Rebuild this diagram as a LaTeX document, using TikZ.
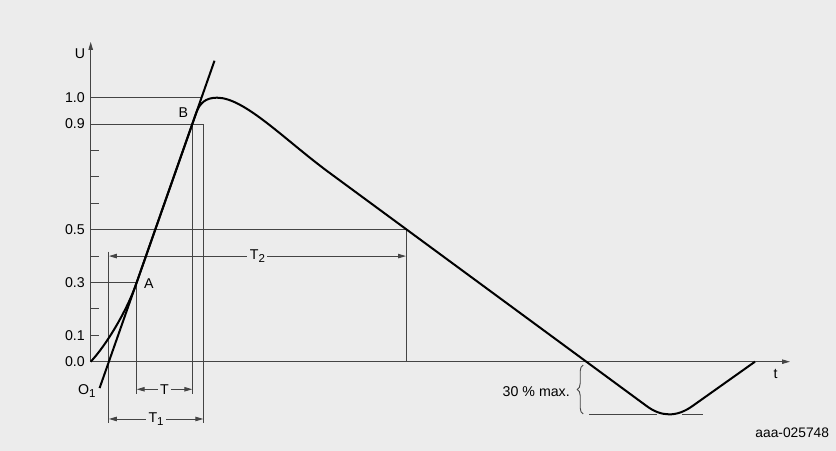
\documentclass[tikz,border=0pt]{standalone}
\usepackage{fontspec}
\setmainfont{Liberation Sans}
\usepackage{tikz}
\usetikzlibrary{arrows.meta,decorations.pathreplacing}
\usepackage{xcolor}
\definecolor{panel}{HTML}{ECECEC}
\definecolor{guidegray}{HTML}{444444}
\newcommand{\lowidx}[1]{\raisebox{-2.5pt}{\fontsize{11.5}{12}\selectfont #1}}

\begin{document}
\begin{tikzpicture}[x=1pt,y=264pt,>={Triangle[length=8pt,width=4.5pt]},
  guide/.style={draw=guidegray,line width=0.9pt},
  wave/.style={line width=2pt,line join=round},
  lab/.style={font=\fontsize{14.2}{16}\selectfont,inner sep=0pt},
  dimline/.style={guide,<->},
  gaplab/.style={lab,fill=panel,inner xsep=2.5pt,inner ysep=1pt}]
\fill[panel] (-90.7,-0.338) rectangle (745.3,1.370);
\useasboundingbox (-90.7,-0.338) rectangle (745.3,1.370);
\coordinate (O) at (0,0);
\coordinate (O1) at (18.2,0);
\coordinate (A) at (46,0.3);
\coordinate (B) at (101.6,0.9);
\coordinate (P) at (126.3,1);
\coordinate (H) at (315.3,0.5);
\coordinate (E) at (664.3,0);
% axes, ticks and levels
\draw[guide,->] (O) -- (0,1.211);
\draw[guide,->] (O) -- (699.3,0);
\foreach \u in {0.1,0.2,0.4,0.6,0.7,0.8} \draw[guide] (0,\u) -- (8,\u);
\foreach \u in {0.0,0.1,0.3,0.5,0.9,1.0} \node[lab,anchor=east] (v\u) at (-5.7,\u) {\u};
\node[lab] (U) at (-10.7,1.166) {U};
\node[lab] (t) at (684.8,-0.047) {t};
\draw[guide] (0,1) -- (111.5,1);
\draw[guide] (0,0.9) -- (112.6,0.9);
\draw[guide] (0,0.5) -- (H);
\draw[guide] (0,0.3) -- (A);
\draw[guide] (H) -- (H |- O);
\draw[guide] (18.2,0.4166) -- (18.2,-0.232);
\draw[guide] (A) -- (46,-0.122);
\draw[guide] (B) -- (101.6,-0.122);
\draw[guide] (112.6,0.9) -- (112.6,-0.232);
% time spans
\draw[dimline] (18.2,0.4) -- node[gaplab] (T2) {T\lowidx{2}} (315.3,0.4);
\draw[dimline] (46,-0.1045) -- node[gaplab] (T) {T} (101.6,-0.1045);
\draw[dimline] (18.2,-0.217) -- node[gaplab] (T1) {T\lowidx{1}} (112.6,-0.217);
% tangent and pulse
\draw[wave] (8.9,-0.1) -- (123.8,1.14);
\draw[wave] (O) .. controls (15,0.06) and (36,0.19) .. (A) -- (B) -- (105.5,0.942) .. controls (109,0.98) and (115,1) .. (P) .. controls (154,1) and (194.3,0.839) .. (239.3,0.714) -- (555.7,-0.1674) .. controls (570.8,-0.2103) and (586.3,-0.2103) .. (602,-0.1674) -- (E);
\node[lab,anchor=base west] (Olab) at (-12.7,-0.126) {O\lowidx{1}};
\node[lab,anchor=base west] (Alab) at (53.3,0.278) {A};
\node[lab,anchor=base west] (Blab) at (87.6,0.926) {B};
% undershoot
\draw[guide] (498.3,-0.198) -- (566.3,-0.198);
\draw[guide] (591.3,-0.198) -- (612.3,-0.198);
\draw[guide,decorate,decoration={brace,amplitude=6pt}] (492.5,-0.198) -- (492.5,-0.0125);
\node[lab,anchor=base east] (under) at (479.3,-0.1337) {30 \% max.};
\node[lab,anchor=base east,font=\fontsize{13.8}{15}\selectfont] (code) at (738.6,-0.288) {aaa-025748};
\end{tikzpicture}
\end{document}
